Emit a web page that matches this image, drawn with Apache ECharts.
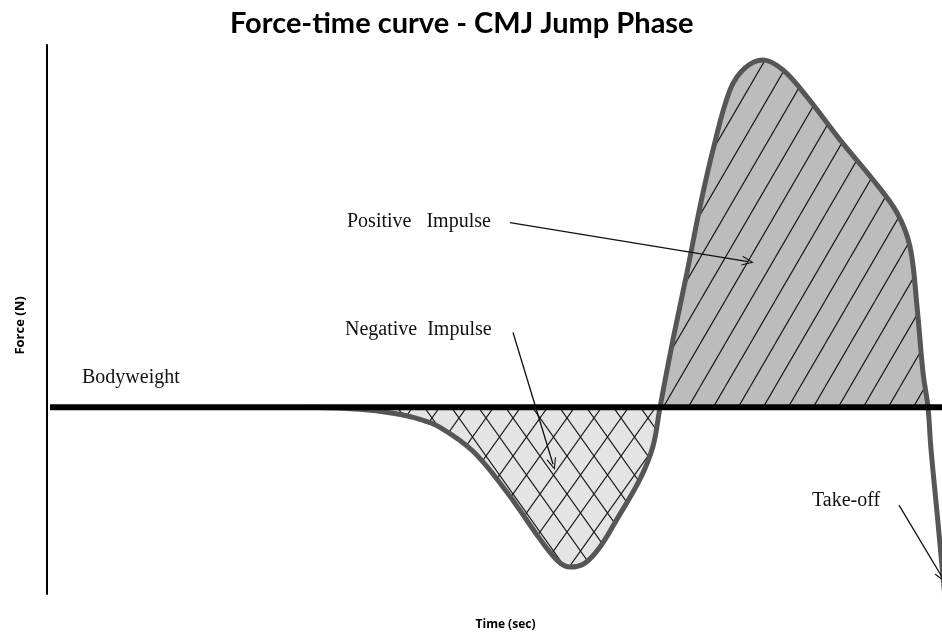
<!DOCTYPE html>
<html>
<head>
<meta charset="utf-8">
<script src="https://cdn.jsdelivr.net/npm/echarts@6/dist/echarts.min.js"></script>
<style>
  html, body { margin: 0; padding: 0; background: #fff; }
  #chart { width: 942px; height: 636px; }
</style>
</head>
<body>
<div id="chart"></div>
<script>
// force level of bodyweight (arbitrary units)
const bodyweight = 187

// unweighting / braking phase (below bodyweight)
const negTime = [263, 313, 346, 373, 393, 426, 460, 493, 511, 523, 538, 553, 570, 593, 606, 613]
const negForce = [187, 185, 181, 175, 167, 143, 102, 55, 33, 27, 31, 47, 75, 115, 148, 187]

// propulsive phase (above bodyweight)
const posTime = [613, 626, 640, 653, 666, 683, 698, 716, 736, 760, 793, 826, 850, 863, 870, 876, 881]
const posForce = [187, 255, 322, 388, 445, 505, 527, 535, 525, 498, 455, 415, 382, 348, 288, 222, 187]

// drop after take-off
const offTime = [884, 890, 895, 899]
const offForce = [145, 82, 28, -15]

// annotation texts and arrows
const notes = [
  { text: 'Positive   Impulse', at: [300, 373], from: [463, 372], to: [701, 333] },
  { text: 'Negative  Impulse', at: [298, 265], from: [466, 262], to: [506, 130] },
  { text: 'Bodyweight', at: [35, 217] },
  { text: 'Take-off', at: [765, 93], from: [852, 89], to: [895, 17] }
]

function hatch(w, h, bg, cross) {
  const c = document.createElement('canvas')
  c.width = w
  c.height = h
  const ctx = c.getContext('2d')
  ctx.fillStyle = bg
  ctx.fillRect(0, 0, w, h)
  ctx.strokeStyle = '#1a1a1a'
  ctx.lineWidth = 1.2
  ctx.beginPath()
  // "/" diagonals, drawn across neighbouring tiles so joins stay clean
  for (let k = -1; k <= 1; k++) {
    ctx.moveTo(k * w, h)
    ctx.lineTo(k * w + w, 0)
    if (cross) {
      ctx.moveTo(k * w, 0)
      ctx.lineTo(k * w + w, h)
    }
  }
  ctx.stroke()
  return c
}

const zip = (xs, ys) => xs.map((x, i) => [x, ys[i]])
const curve = zip(negTime, negForce).concat(zip(posTime, posForce).slice(1), zip(offTime, offForce))

const chart = echarts.init(document.getElementById('chart'))

const noteFont = { fontFamily: 'Liberation Serif', fontSize: 20, color: '#111' }
const arrowHead = 'path://M5,0 L10,10 L8.8,10 L5,2.4 L1.2,10 L0,10 Z'

const option = {
  animation: false,
  title: {
    text: 'Force-time curve - CMJ Jump Phase',
    left: 225,
    top: 4,
    textStyle: { fontFamily: 'Lato', fontWeight: 'bold', fontSize: 29, color: '#000' }
  },
  grid: { left: 47, right: 0, top: 45, bottom: 41 },
  xAxis: {
    type: 'value',
    min: 0,
    max: 895,
    name: 'Time (sec)',
    nameLocation: 'middle',
    nameGap: 25,
    nameTextStyle: { fontFamily: 'Open Sans', fontWeight: 'bold', fontSize: 12, color: '#000', padding: [0, 0, 0, 22] },
    axisLine: { show: false },
    axisTick: { show: false },
    axisLabel: { show: false },
    splitLine: { show: false }
  },
  yAxis: {
    type: 'value',
    min: 0,
    max: 550,
    name: 'Force (N)',
    nameLocation: 'middle',
    nameRotate: 90,
    nameGap: 20,
    nameTextStyle: { fontFamily: 'Open Sans', fontWeight: 'bold', fontSize: 13, color: '#000', padding: [0, 12, 0, 0] },
    axisLine: { show: true, onZero: false, lineStyle: { color: '#000', width: 2 } },
    axisTick: { show: false },
    axisLabel: { show: false },
    splitLine: { show: false }
  },
  series: [
    {
      name: 'Negative Impulse',
      type: 'line',
      smooth: 0.35,
      symbol: 'none',
      data: zip(negTime, negForce),
      lineStyle: { width: 0 },
      areaStyle: {
        origin: bodyweight,
        opacity: 1,
        color: { image: hatch(27, 38, '#e4e4e4', true), repeat: 'repeat' }
      },
      z: 1
    },
    {
      name: 'Positive Impulse',
      type: 'line',
      smooth: 0.35,
      symbol: 'none',
      data: zip(posTime, posForce),
      lineStyle: { width: 0 },
      areaStyle: {
        origin: bodyweight,
        opacity: 1,
        color: { image: hatch(25, 43, '#bcbcbc', false), repeat: 'repeat' }
      },
      z: 1
    },
    {
      name: 'Force',
      type: 'line',
      smooth: 0.35,
      symbol: 'none',
      data: curve,
      lineStyle: { color: '#565656', width: 5 },
      z: 2
    },
    {
      name: 'Bodyweight',
      type: 'line',
      symbol: 'none',
      data: [[3, bodyweight], [895, bodyweight]],
      lineStyle: { color: '#000', width: 6 },
      z: 3,
      markLine: {
        silent: true,
        symbol: ['none', arrowHead],
        symbolSize: [10, 12],
        lineStyle: { color: '#111', width: 1.3, type: 'solid' },
        label: { show: false },
        data: notes.filter(n => n.from).map(n => [{ coord: n.from }, { coord: n.to }])
      },
      markPoint: {
        silent: true,
        symbol: 'circle',
        symbolSize: 0,
        label: {
          show: true,
          position: 'right',
          distance: 0,
          formatter: p => p.name,
          ...noteFont
        },
        data: notes.map(n => ({ name: n.text, coord: n.at }))
      }
    }
  ]
}

chart.setOption(option)
</script>
</body>
</html>
